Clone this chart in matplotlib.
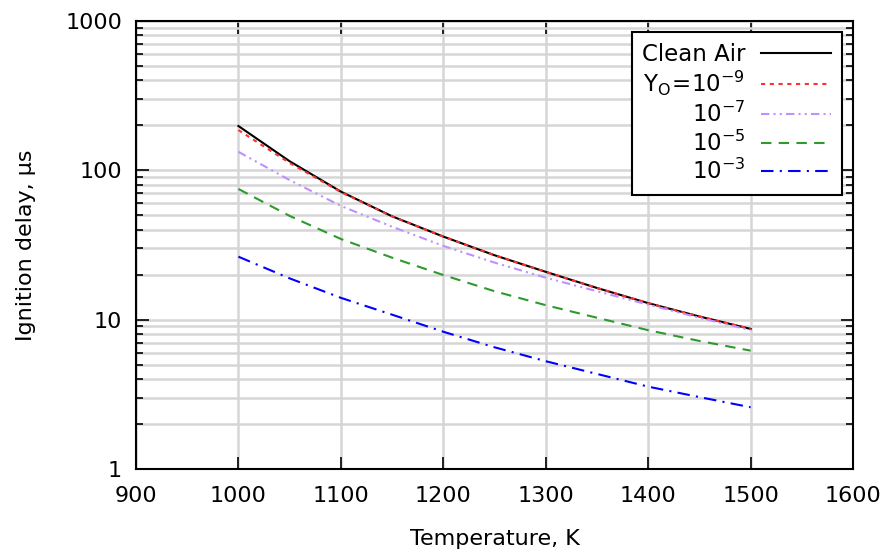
import matplotlib
matplotlib.use("Agg")
import matplotlib.pyplot as plt
from matplotlib.ticker import FixedLocator, LogLocator, FuncFormatter, NullFormatter

# Ignition delay (microseconds)
temperature = [1000, 1050, 1100, 1150, 1200, 1250, 1300, 1350, 1400, 1450, 1500]
clean_air = [198, 115, 72.0, 49.2, 36.0, 27.0, 20.9, 16.3, 12.9, 10.5, 8.67]
yo_1e9 = [186, 112, 71.5, 49.1, 36.0, 27.0, 20.9, 16.3, 12.9, 10.5, 8.67]
yo_1e7 = [133, 86, 57.8, 41.9, 31.2, 24.1, 19.1, 15.5, 12.6, 10.3, 8.5]
yo_1e5 = [75, 49.5, 34.7, 26.0, 19.9, 15.5, 12.5, 10.3, 8.5, 7.2, 6.2]
yo_1e3 = [26.4, 18.9, 14.0, 10.8, 8.3, 6.53, 5.27, 4.33, 3.56, 3.03, 2.59]

labels = ["Clean Air",
          r"$\mathregular{Y_O\!=\!10^{-9}}$",
          r"$\mathregular{10^{-7}}$",
          r"$\mathregular{10^{-5}}$",
          r"$\mathregular{10^{-3}}$"]

plt.rcParams["font.family"] = ["DejaVu Sans"]
plt.rcParams["mathtext.fontset"] = "dejavusans"
fs = 16

fig = plt.figure(figsize=(8.87, 5.52), dpi=100)
ax = fig.add_axes([0.1533, 0.1504, 0.8084, 0.8116])

ax.plot(temperature, clean_air, color="black", lw=1.5, label=labels[0])
ax.plot(temperature, yo_1e9, color="#ff3030", lw=1.5, dashes=(2, 2.2), label=labels[1])
ax.plot(temperature, yo_1e7, color="#c090ff", lw=1.5, dashes=(4, 2, 1, 2, 1, 2), label=labels[2])
ax.plot(temperature, yo_1e5, color="#2e9a2e", lw=1.5, dashes=(5, 3.5), label=labels[3])
ax.plot(temperature, yo_1e3, color="#0000ff", lw=1.5, dashes=(6, 3, 1, 3), label=labels[4])

ax.set_yscale("log")
ax.set_xlim(900, 1600)
ax.set_ylim(1, 1000)

ax.xaxis.set_major_locator(FixedLocator(range(900, 1601, 100)))
ax.yaxis.set_major_locator(LogLocator(base=10))
ax.yaxis.set_minor_locator(LogLocator(base=10, subs=range(2, 10)))
ax.yaxis.set_major_formatter(FuncFormatter(lambda v, p: "%g" % v))
ax.yaxis.set_minor_formatter(NullFormatter())

ax.grid(True, which="major", color="#d6d6d6", lw=1.8)
ax.grid(True, which="minor", axis="y", color="#d6d6d6", lw=1.8)
ax.set_axisbelow(True)

ax.tick_params(which="both", direction="in", top=True, right=True, colors="black")
ax.tick_params(which="major", length=9, width=1.2)
ax.tick_params(which="minor", length=5, width=1.2)
ax.tick_params(axis="y", labelsize=fs, pad=10)
ax.tick_params(axis="x", labelsize=fs, pad=12)
for s in ax.spines.values():
    s.set_linewidth(1.5)

ax.set_xlabel("Temperature, K", fontsize=fs, labelpad=17)
ax.set_ylabel("Ignition delay, μs", fontsize=fs, labelpad=21)

leg = ax.legend(loc="upper right", fontsize=16.5, markerfirst=False, handlelength=3.05,
                fancybox=False, framealpha=1, edgecolor="black", borderaxespad=0.5,
                labelspacing=0.15, handletextpad=0.7, borderpad=0.45)
leg.get_frame().set_linewidth(1.5)

fig.savefig("out.png", dpi=100)
